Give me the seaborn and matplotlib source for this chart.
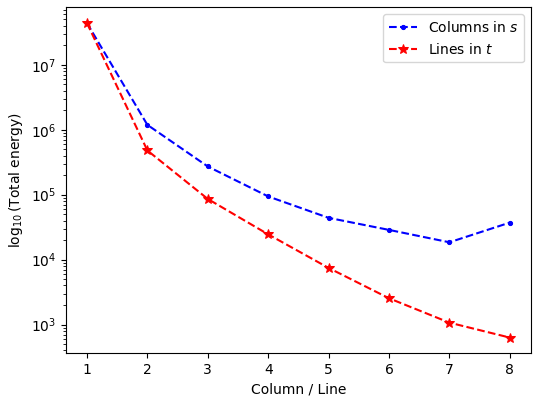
import matplotlib
matplotlib.use("Agg")
import matplotlib.pyplot as plt
import seaborn as sns
import pandas as pd

x_vals = [1, 2, 3, 4, 5, 6, 7, 8]
columns_s = [4.4e7, 1.19e6, 2.72e5, 9.4e4, 4.4e4, 2.87e4, 1.85e4, 3.72e4]
lines_t = [4.4e7, 4.8e5, 8.6e4, 2.45e4, 7.45e3, 2.54e3, 1.07e3, 6.3e2]

df = pd.DataFrame({"x": x_vals, "cols": columns_s, "lines": lines_t})

fig, ax = plt.subplots(figsize=(5.35, 3.97), dpi=100)
fig.subplots_adjust(left=0.123, right=0.9925, top=0.9816, bottom=0.110)

sns.lineplot(data=df, x="x", y="cols", ax=ax, color="blue", linestyle="--",
             marker=".", markersize=6, markeredgecolor="blue", label=r"Columns in $s$")
sns.lineplot(data=df, x="x", y="lines", ax=ax, color="red", linestyle="--",
             marker="*", markersize=7, markeredgecolor="red", label=r"Lines in $t$")

ax.set_yscale("log")
ax.set_xlabel("Column / Line")
ax.set_ylabel(r"$\log_{10}$(Total energy)")
ax.legend(loc="upper right")

fig.savefig("out.png", dpi=100)
